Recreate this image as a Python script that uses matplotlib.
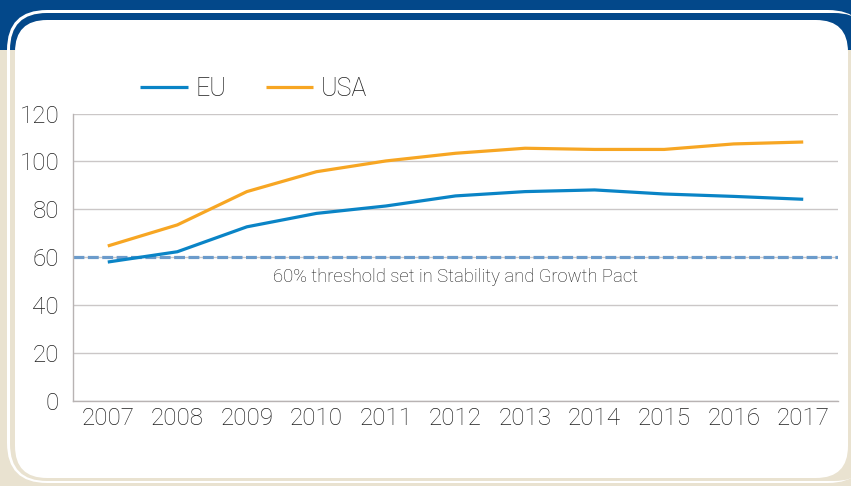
import numpy as np
import matplotlib.pyplot as plt
from matplotlib.patches import FancyBboxPatch, Rectangle

# Government debt, % of GDP
years = ["2007", "2008", "2009", "2010", "2011", "2012",
         "2013", "2014", "2015", "2016", "2017"]
eu = [58.0, 62.3, 72.7, 78.3, 81.4, 85.6, 87.4, 88.1, 86.4, 85.4, 84.2]
usa = [64.7, 73.5, 87.4, 95.7, 100.2, 103.4, 105.5, 105.0, 105.0, 107.3, 108.1]
threshold = 60
threshold_label = "60% threshold set in Stability and Growth Pact"

plt.rcParams["font.family"] = ["Roboto", "DejaVu Sans"]
plt.rcParams["font.weight"] = "light"

W, H = 851, 486
beige = "#e9e2d0"
navy = "#03488a"
txt = "#1f1f1f"

fig = plt.figure(figsize=(W / 100, H / 100), dpi=100, facecolor=beige)

# decorative frame drawn in pixel coordinates
bg = fig.add_axes([0, 0, 1, 1], zorder=0)
bg.set_xlim(0, W)
bg.set_ylim(H, 0)
bg.axis("off")
bg.add_patch(Rectangle((0, 0), W, 50, color=navy, lw=0))
bg.add_patch(FancyBboxPatch((7, 10), W + 10, 473, boxstyle="round,pad=0,rounding_size=40",
                            fc="white", ec="none"))
ring = FancyBboxPatch((10, 13), W + 10, 468, boxstyle="round,pad=0,rounding_size=37",
                      fc=beige, ec="none")
bg.add_patch(ring)
top_band = Rectangle((0, 0), W + 20, 50, color=navy, lw=0)
bg.add_patch(top_band)
top_band.set_clip_path(ring)
bg.add_patch(FancyBboxPatch((15, 20), 833, 458, boxstyle="round,pad=0,rounding_size=32",
                            fc="white", ec="none"))

ax = fig.add_axes([73 / W, 1 - 401 / H, (838 - 73) / W, (401 - 113.5) / H], zorder=1)
ax.patch.set_alpha(0)
x = np.arange(len(years))

ax.plot(x, eu, color="#0a84c6", lw=2.3, label="EU", solid_capstyle="butt", zorder=3)
ax.plot(x, usa, color="#f7a623", lw=2.3, label="USA", solid_capstyle="butt", zorder=3)
ax.axhline(threshold, color="#6b9bcb", lw=2.3, linestyle=(0, (3.4, 1.1)), zorder=2)
ax.text(5, threshold - 4.5, threshold_label, ha="center", va="top", fontsize=13.3, color=txt)

ax.set_xlim(-0.5, len(years) - 0.5)
ax.set_ylim(0, 120)
ax.set_yticks(np.arange(0, 121, 20))
ax.set_xticks(x)
ax.set_xticklabels(years)
ax.yaxis.grid(True, color="#cbc7c7", lw=1)
ax.set_axisbelow(True)
ax.tick_params(length=0, labelsize=17.5, labelcolor=txt)
ax.tick_params(axis="y", pad=10)
ax.tick_params(axis="x", pad=4)
for s in ["top", "right"]:
    ax.spines[s].set_visible(False)
for s in ["left", "bottom"]:
    ax.spines[s].set_color("#b8b3b3")
    ax.spines[s].set_linewidth(1)

ax.legend(loc="center left", bbox_to_anchor=(140 / W, 1 - 89 / H),
          bbox_transform=fig.transFigure, ncol=2, frameon=False, fontsize=18,
          handlelength=1.9, handletextpad=0.3, columnspacing=1.6,
          borderpad=0, borderaxespad=0, labelcolor=txt)

fig.savefig("out.png", dpi=100, facecolor=beige)
